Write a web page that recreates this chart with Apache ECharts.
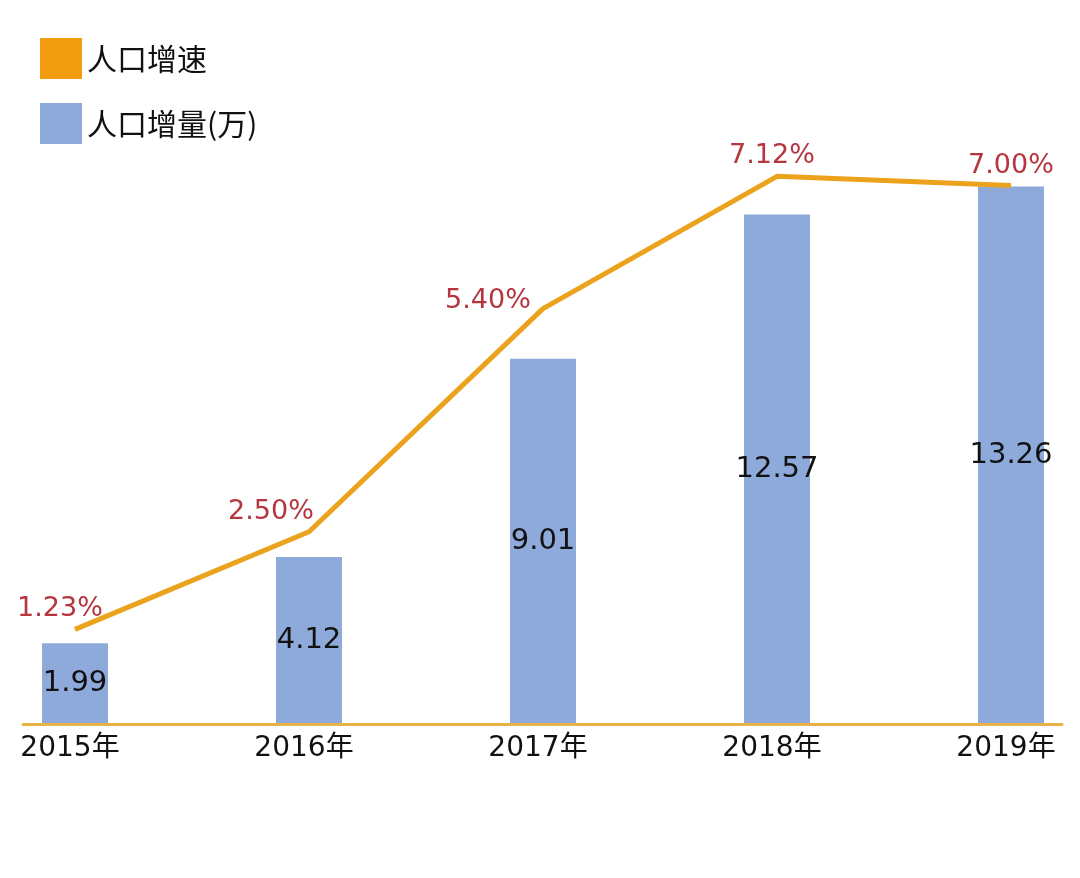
<!DOCTYPE html>
<html>
<head>
<meta charset="utf-8">
<script src="https://cdn.jsdelivr.net/npm/echarts@6/dist/echarts.min.js"></script>
<style>
html,body{margin:0;padding:0;background:#fff;}
#c{width:1080px;height:878px;}
</style>
</head>
<body>
<div id="c"></div>
<script>
const categories = ['2015年', '2016年', '2017年', '2018年', '2019年'];
const growthRate = [1.23, 2.50, 5.40, 7.12, 7.00];      // 人口增速 (%)
const increase = [1.99, 4.12, 9.01, 12.57, 13.26];       // 人口增量(万)
const rateLabelOffsets = [[-15, 0], [-38, 0], [-55, 12], [-5, 0], [0, 0]];

const FONT = '"Noto Sans CJK SC", "Noto Sans", sans-serif';
const NUMFONT = '"DejaVu Sans", "Noto Sans CJK SC", sans-serif';
const chart = echarts.init(document.getElementById('c'), null, {renderer: 'canvas'});

chart.setOption({
  backgroundColor: '#ffffff',
  animation: false,
  legend: {
    orient: 'vertical',
    left: 40,
    top: 38,
    padding: 0,
    itemWidth: 42,
    itemHeight: 41,
    itemGap: 24,
    icon: 'rect',
    textStyle: {fontFamily: FONT, fontSize: 30, color: '#111'},
    data: [
      {name: '人口增速', itemStyle: {color: '#f29c0f'}},
      {name: '人口增量(万)', itemStyle: {color: '#8eaadb'}}
    ]
  },
  grid: [
    {left: 75, right: 69, top: 124, bottom: 154, containLabel: false},
    {left: 23, right: 18, bottom: 154, height: 10, containLabel: false}
  ],
  xAxis: [
    {
      type: 'category',
      gridIndex: 0,
      data: categories,
      boundaryGap: false,
      axisLine: {show: false},
      axisTick: {show: false},
      axisLabel: {fontFamily: NUMFONT, fontSize: 28, color: '#111', margin: 11, padding: [0, 10, 0, 0]}
    },
    {
      type: 'category',
      gridIndex: 1,
      data: categories,
      z: 5,
      axisLine: {show: true, lineStyle: {color: '#e8b246', width: 3}},
      axisTick: {show: false},
      axisLabel: {show: false},
      splitLine: {show: false}
    }
  ],
  yAxis: [
    {type: 'value', gridIndex: 0, min: 0, max: 14.8, show: false, splitLine: {show: false}},
    {type: 'value', gridIndex: 0, min: 0, max: 7.8, show: false, splitLine: {show: false}},
    {type: 'value', gridIndex: 1, show: false, splitLine: {show: false}}
  ],
  series: [
    {
      name: '人口增量(万)',
      type: 'bar',
      xAxisIndex: 0,
      yAxisIndex: 0,
      barWidth: 66,
      itemStyle: {color: '#8eaadb'},
      label: {
        show: true,
        position: 'inside',
        fontFamily: NUMFONT,
        fontSize: 29,
        color: '#111',
        formatter: p => increase[p.dataIndex].toFixed(2)
      },
      data: increase
    },
    {
      name: '人口增速',
      type: 'line',
      xAxisIndex: 0,
      yAxisIndex: 1,
      z: 4,
      symbol: 'circle',
      symbolSize: 1,
      lineStyle: {color: '#eba21c', width: 5},
      itemStyle: {color: '#eba21c'},
      label: {
        show: true,
        position: 'top',
        distance: 6,
        fontFamily: NUMFONT,
        fontSize: 27,
        color: '#b5363f',
        formatter: p => growthRate[p.dataIndex].toFixed(2) + '%'
      },
      data: growthRate.map((v, i) => ({value: v, label: {offset: rateLabelOffsets[i]}}))
    }
  ]
});
</script>
</body>
</html>
